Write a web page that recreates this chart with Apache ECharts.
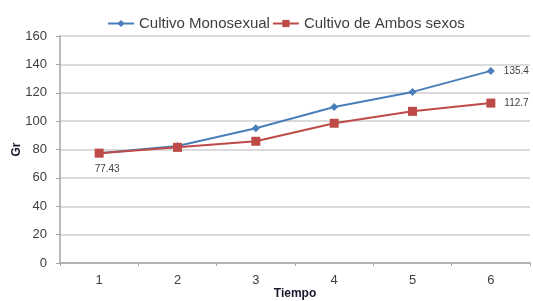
<!DOCTYPE html>
<html><head><meta charset="utf-8">
<script src="https://cdn.jsdelivr.net/npm/echarts@6/dist/echarts.min.js"></script>
<style>html,body{margin:0;padding:0;background:#fff}#c{width:533px;height:301px}</style>
</head><body><div id="c"></div>
<script>
var categories = ['1','2','3','4','5','6'];
var monoValues = [77.43, 82.5, 95, 110, 120.6, 135.4];
var ambosValues = [77.43, 81.5, 85.8, 98.5, 106.9, 112.7];
var seriesNames = ['Cultivo Monosexual', 'Cultivo de Ambos sexos'];
var yTicks = [0, 20, 40, 60, 80, 100, 120, 140, 160];

var labelStyle = { fontSize: 10, color: '#404040', fontFamily: 'Liberation Sans' };

function monoData() {
  return monoValues.map(function (v, i) {
    if (i === monoValues.length - 1) {
      return { value: v, label: Object.assign({ show: true, position: 'right', distance: 9 }, labelStyle) };
    }
    return v;
  });
}
function ambosData() {
  return ambosValues.map(function (v, i) {
    if (i === ambosValues.length - 1) {
      return { value: v, label: Object.assign({ show: true, position: 'right', distance: 9 }, labelStyle) };
    }
    if (i === 0) {
      return { value: v, label: Object.assign({ show: true, position: 'bottom', distance: 7, offset: [8, 0] }, labelStyle) };
    }
    return v;
  });
}

var chart = echarts.init(document.getElementById('c'));
chart.setOption({
  animation: false,
  textStyle: { fontFamily: 'Liberation Sans' },
  legend: {
    top: 11, left: 102, itemWidth: 26, itemHeight: 9, itemGap: 2,
    textStyle: { fontSize: 15, color: '#404040', fontFamily: 'Liberation Sans' },
    data: seriesNames
  },
  grid: { left: 60, right: 3, top: 36, bottom: 38, containLabel: false, outerBoundsMode: 'none' },
  xAxis: {
    type: 'category', data: categories, boundaryGap: true,
    name: 'Tiempo', nameLocation: 'middle', nameGap: 25, nameMoveOverlap: false,
    nameTextStyle: { fontWeight: 'bold', fontSize: 12, color: '#1a1a2e' },
    axisLine: { lineStyle: { color: '#a6a6a6', width: 1.5 } },
    axisTick: { show: true, length: 3, lineStyle: { color: '#a6a6a6' } },
    axisLabel: { fontSize: 13, color: '#404040', margin: 11 }
  },
  yAxis: {
    type: 'value', min: yTicks[0], max: yTicks[yTicks.length - 1], interval: 20,
    name: 'Gr', nameLocation: 'middle', nameGap: 37, nameRotate: 90, nameMoveOverlap: false,
    nameTextStyle: { fontWeight: 'bold', fontSize: 12, color: '#1a1a2e' },
    axisLine: { show: true, lineStyle: { color: '#a6a6a6', width: 1.5 } },
    axisTick: { show: true, length: 4, lineStyle: { color: '#a6a6a6' } },
    axisLabel: { fontSize: 13, color: '#404040', margin: 13 },
    splitLine: { lineStyle: { color: '#cfcfcf', width: 1.5 } }
  },
  series: [
    {
      name: seriesNames[0], type: 'line', data: monoData(),
      symbol: 'diamond', symbolSize: 8,
      lineStyle: { color: '#4a7ebb', width: 2 }, itemStyle: { color: '#4a7ebb' },
      z: 3
    },
    {
      name: seriesNames[1], type: 'line', data: ambosData(),
      symbol: 'rect', symbolSize: 9,
      lineStyle: { color: '#be4b48', width: 2 }, itemStyle: { color: '#be4b48' },
      z: 4
    }
  ]
});
</script></body></html>
